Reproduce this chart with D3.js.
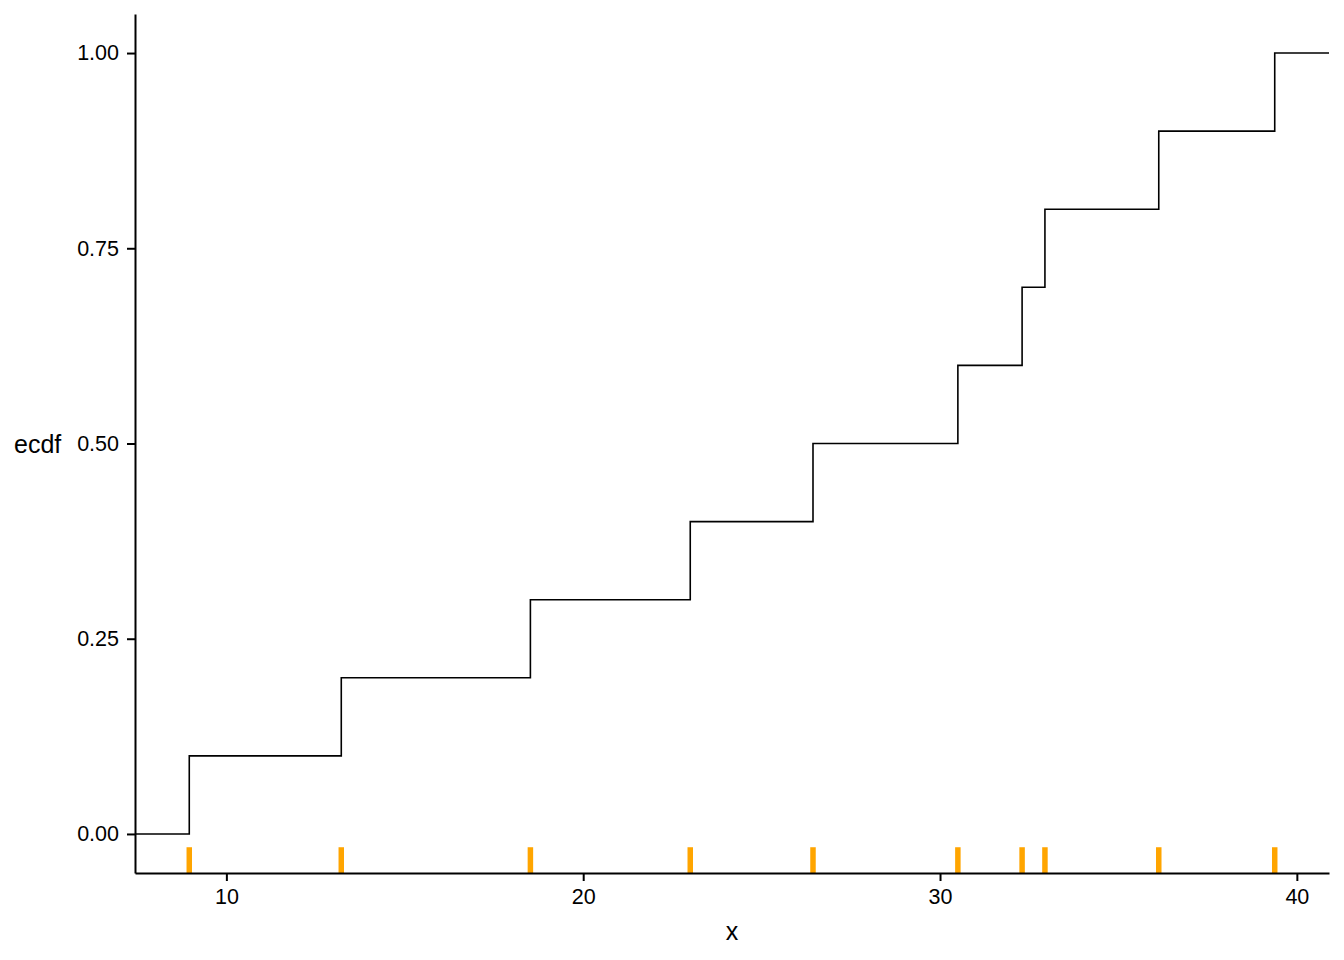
<!DOCTYPE html>
<html>
<head>
<meta charset="utf-8">
<script src="https://cdn.jsdelivr.net/npm/d3@7"></script>
<style>
  body { margin: 0; background: #fff; }
  svg { display: block; font-family: "Liberation Sans", Arial, sans-serif; }
</style>
</head>
<body>
<div id="chart"></div>
<script>
// sample values (sorted), ecdf steps
const xValues = [8.96, 13.22, 18.52, 23.0, 26.44, 30.5, 32.3, 32.94, 36.13, 39.38];
const xTicks = [10, 20, 30, 40];
const yTicks = [0, 0.25, 0.5, 0.75, 1];

const W = 1344, H = 960;
const margin = { top: 14, right: 15, bottom: 87, left: 135 };
const width = W - margin.left - margin.right;
const height = H - margin.top - margin.bottom;

const svg = d3.select("#chart")
    .append("svg")
    .attr("width", W)
    .attr("height", H);

const g = svg.append("g")
    .attr("transform", `translate(${margin.left},${margin.top})`);

// ggplot style 5% expansion
const xmin = d3.min(xValues), xmax = d3.max(xValues);
const xpad = (xmax - xmin) * 0.05;
const x = d3.scaleLinear()
    .domain([xmin - xpad, xmax + xpad])
    .range([0, width]);

const y = d3.scaleLinear()
    .domain([-0.05, 1.05])
    .range([height, 0]);

// ecdf points, padded to panel edges
const n = xValues.length;
const steps = [{ x: x.domain()[0], y: 0 }];
xValues.forEach((v, i) => steps.push({ x: v, y: (i + 1) / n }));
steps.push({ x: x.domain()[1], y: 1 });

const line = d3.line()
    .x(d => x(d.x))
    .y(d => y(d.y))
    .curve(d3.curveStepAfter);

g.append("path")
    .datum(steps)
    .attr("fill", "none")
    .attr("stroke", "#000")
    .attr("stroke-width", 1.6)
    .attr("d", line);

// rug
g.selectAll(".rug")
    .data(xValues)
    .enter()
    .append("line")
    .attr("x1", d => x(d))
    .attr("x2", d => x(d))
    .attr("y1", height)
    .attr("y2", height - height * 0.03)
    .attr("stroke", "#FFA500")
    .attr("stroke-width", 5.5);

// X axis
const xAxis = g.append("g")
    .attr("transform", `translate(0,${height})`)
    .call(d3.axisBottom(x).tickValues(xTicks).tickSize(8).tickPadding(8).tickSizeOuter(0));

// Y axis
const yAxis = g.append("g")
    .call(d3.axisLeft(y).tickValues(yTicks).tickFormat(d3.format(".2f")).tickSize(8).tickPadding(8).tickSizeOuter(0));

[xAxis, yAxis].forEach(a => {
    a.select(".domain").attr("stroke", "#000").attr("stroke-width", 2);
    a.selectAll(".tick line").attr("stroke", "#000").attr("stroke-width", 2);
    a.selectAll(".tick text")
        .attr("fill", "#000")
        .attr("font-size", "21.5px")
        .attr("font-family", "Liberation Sans, Arial, sans-serif");
});

// axis titles
svg.append("text")
    .attr("x", margin.left + width / 2)
    .attr("y", 940)
    .attr("text-anchor", "middle")
    .attr("font-size", "25px")
    .attr("fill", "#000")
    .text("x");

svg.append("text")
    .attr("x", 14)
    .attr("y", margin.top + y(0.5) + 9)
    .attr("text-anchor", "start")
    .attr("font-size", "25px")
    .attr("fill", "#000")
    .text("ecdf");
</script>
</body>
</html>
